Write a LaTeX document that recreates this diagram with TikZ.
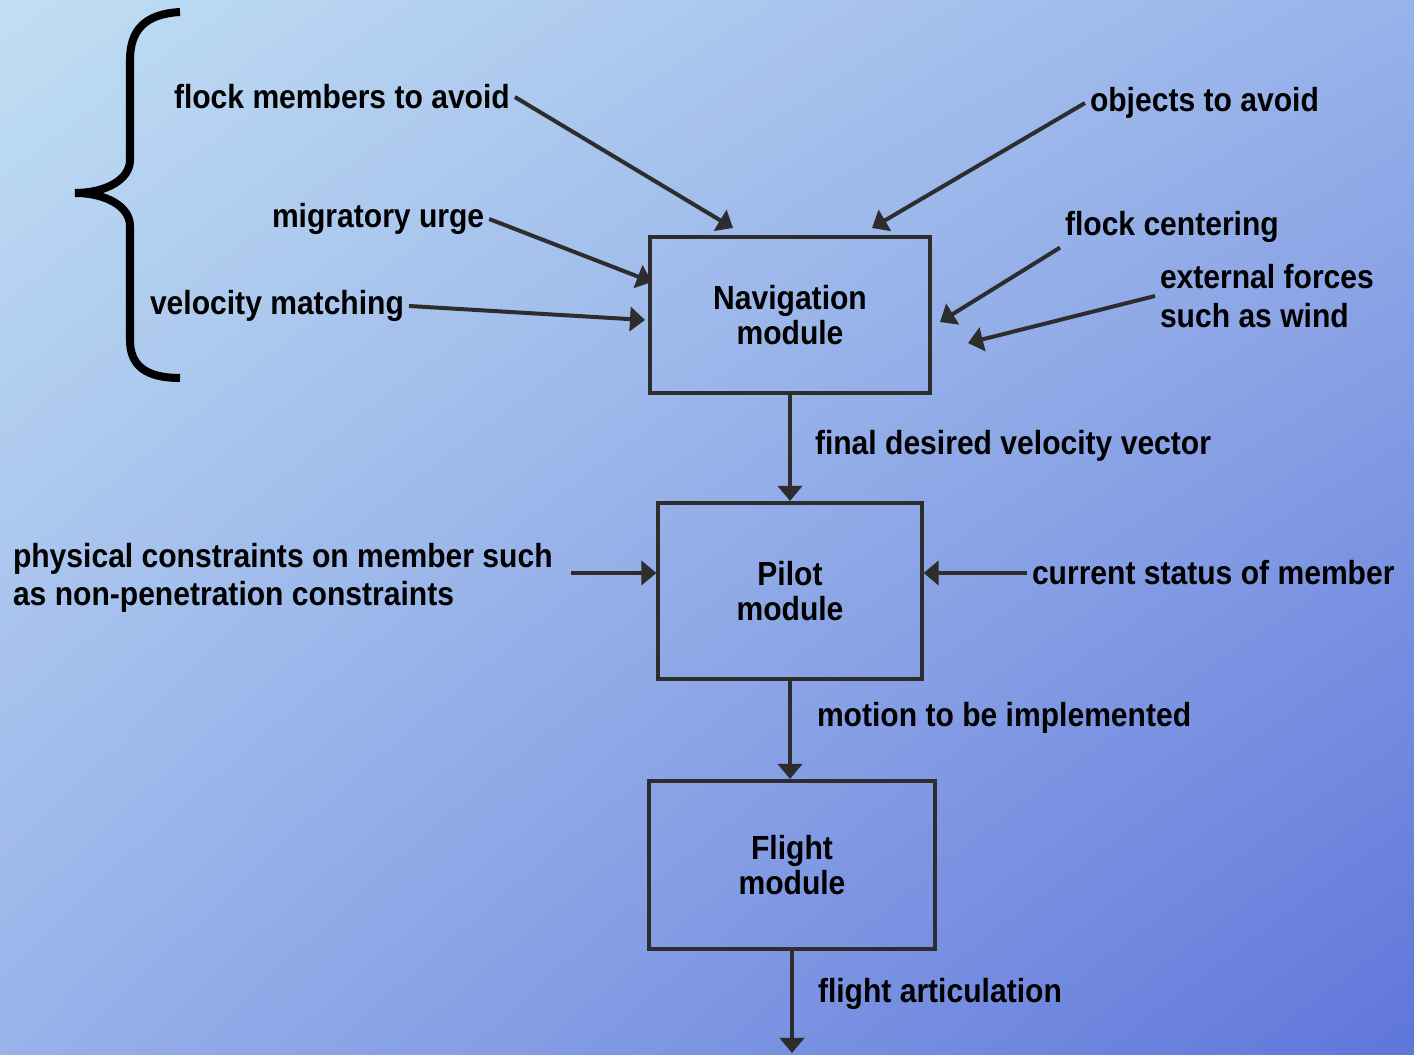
\documentclass[tikz,border=0pt]{standalone}
\usepackage{fontspec}
\setmainfont{Liberation Sans}[FakeStretch=0.9]
\usetikzlibrary{arrows.meta,shadings}

\definecolor{bgtl}{RGB}{192,223,243}
\definecolor{bgmid}{RGB}{152,178,234}
\definecolor{bgbr}{RGB}{95,118,218}
\definecolor{linegray}{RGB}{45,45,45}

\tikzset{
	lbl/.style={inner sep=0pt, outer sep=0.05cm, font=\fontsize{9.5}{11}\selectfont\bfseries, align=left},
	modbox/.style={draw=linegray, line width=0.04cm, align=center, font=\fontsize{9.5}{10}\selectfont\bfseries},
	arr/.style={draw=linegray, line width=0.04cm, -{Triangle[length=0.15cm, width=0.24cm]}}
}

\begin{document}
\begin{tikzpicture}[x=0.01cm, y=-0.01cm]

	% Background
	\useasboundingbox (0,0) rectangle (1414,1055);
	\shade[upper left=bgtl, upper right=bgmid, lower left=bgmid, lower right=bgbr] (0,0) rectangle (1414,1055);

	% Brace grouping the flock rules
	\draw[line width=0.08cm] (180,12) .. controls (145,14) and (130,30) .. (130,60) -- (130,160)
		.. controls (130,180) and (105,193) .. (75,193)
		.. controls (105,193) and (130,206) .. (130,226) -- (130,340)
		.. controls (130,365) and (145,378) .. (180,378);

	% Modules
	\node[modbox, minimum width=2.79cm, minimum height=1.55cm] (nav) at (790,315) {Navigation\\module};
	\node[modbox, minimum width=2.63cm, minimum height=1.76cm] (pilot) at (790,591) {Pilot\\module};
	\node[modbox, minimum width=2.85cm, minimum height=1.68cm] (flight) at (792,865) {Flight\\module};
	\coordinate (out) at (792,1053);

	% Inputs of the navigation module
	\node[lbl, anchor=west] (fma) at (169,97) {flock members to avoid};
	\node[lbl, anchor=west] (mu) at (267,219) {migratory urge};
	\node[lbl, anchor=west] (vm) at (145,306) {velocity matching};
	\node[lbl, anchor=west] (ota) at (1085,103) {objects to avoid};
	\node[lbl, anchor=west] (fc) at (1060,227) {flock centering};
	\node[lbl, anchor=west] (ef) at (1155,296) {external forces\\such as wind};

	\coordinate (navfma) at (733,228);
	\coordinate (navota) at (872,228);
	\coordinate (navmu) at (652,282);
	\coordinate (navvm) at (645,320);
	\coordinate (navfc) at (940,322);
	\coordinate (navef) at (968,343);

	\draw[arr] (fma.east) -- (navfma);
	\draw[arr] (mu.east) -- (navmu);
	\draw[arr] (vm.east) -- (navvm);
	\draw[arr] (ota.west) -- (navota);
	\draw[arr] (fc.south west) -- (navfc);
	\draw[arr] (ef.west) -- (navef);

	% Inputs of the pilot module
	\node[lbl, anchor=west] (pc) at (8,578) {physical constraints on member such\\as non-penetration constraints};
	\node[lbl, anchor=west] (cs) at (1027,573) {current status of member};
	\coordinate (pcstart) at (571,573);
	\draw[arr] (pcstart) -- (pcstart -| pilot.west);
	\draw[arr] (cs.west) -- (cs.west -| pilot.east);

	% Flow between modules
	\draw[arr] (nav.south) -- (pilot.north);
	\draw[arr] (pilot.south) -- (pilot.south |- flight.north);
	\draw[arr] (flight.south) -- (out);

	\node[lbl, anchor=west] (fdv) at (810,446) {final desired velocity vector};
	\node[lbl, anchor=west] (mti) at (812,718) {motion to be implemented};
	\node[lbl, anchor=west] (fa) at (813,994) {flight articulation};

\end{tikzpicture}
\end{document}
